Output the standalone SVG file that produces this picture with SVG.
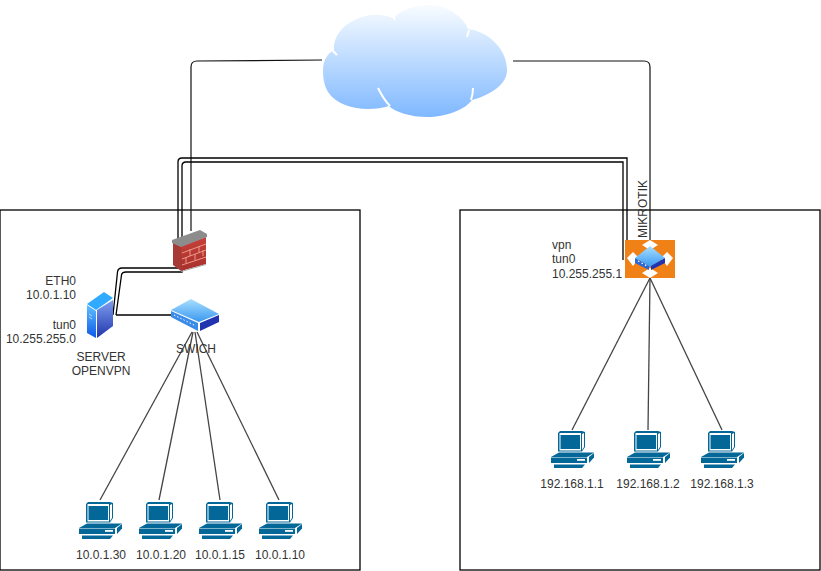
<svg xmlns="http://www.w3.org/2000/svg" width="821" height="571" viewBox="0 0 821 571">
<style>
text{font-family:"Liberation Sans",Arial,sans-serif;font-size:12px;fill:#333}
.ln{fill:none;stroke:#000;stroke-width:1.3}
.lt{fill:none;stroke:#111;stroke-width:1.2}
.lg{fill:none;stroke:#444;stroke-width:1.3}
.box{fill:#fff;stroke:#000;stroke-width:1.3}
.c1{fill:#036897}.c2{fill:#fff}
.gap{fill:none;stroke:#fff;stroke-width:2}
</style>
<defs>
<linearGradient id="cl" x1="0" y1="0" x2="0" y2="1"><stop offset="0" stop-color="#f8fcff"/><stop offset="1" stop-color="#7fb8ff"/></linearGradient>
<linearGradient id="sv" x1="0" y1="0" x2="0" y2="1"><stop offset="0" stop-color="#7f9ff0"/><stop offset="1" stop-color="#1f35ab"/></linearGradient>
<linearGradient id="sv2" x1="0" y1="0" x2="0" y2="1"><stop offset="0" stop-color="#60c0ff"/><stop offset="1" stop-color="#0c58e8"/></linearGradient>
<linearGradient id="top" x1="0" y1="0" x2="0" y2="1"><stop offset="0" stop-color="#a8e0ff"/><stop offset="1" stop-color="#3a98f0"/></linearGradient>
<linearGradient id="fw" x1="0" y1="0" x2="0" y2="1"><stop offset="0" stop-color="#c8403a"/><stop offset="1" stop-color="#a8302c"/></linearGradient>
<g id="pc">
<path class="c1" d="M9,-1 H31 L34,0 V15 L31,19.500 H7 V1 Z"/>
<rect class="c2" x="8.500" y="1" width="21.500" height="17.500"/>
<rect class="c1" x="9.500" y="3" width="19.500" height="14"/>
<path class="c2" d="M31,2 L33,1 V15 L31,18 Z"/>
<path class="c1" d="M8,20.500 H43 L36,25 H0 Z"/>
<rect class="c1" x="0" y="25.500" width="36" height="5.500"/>
<rect class="c2" x="26" y="27" width="8" height="1.800"/>
<path class="c1" d="M38,25 L43,21 V25.500 L38,31 Z"/>
<path class="c1" d="M3,32.500 H34 L31,36 H3 Z"/>
</g>
</defs>
<rect id="left-box" class="box" x="0" y="210" width="360" height="360"/>
<rect id="right-box" class="box" x="460" y="210" width="360" height="360"/>
<g id="connectors">
<path class="lt" d="M322,60 L197,61 Q191,61 191,67 V231"/>
<path class="lt" d="M513,61 L644,61 Q650,61 650,67 V240"/>
<path class="ln" d="M113,315 L117.500,272 Q118,268 122,268 H178 V162 Q178,158 182,158 H627 V256"/>
<path class="ln" d="M116,315 L121.500,275 Q122,272 126,272 H182 V166 Q182,162 186,162 H623 V260"/>
<path class="ln" d="M116,315 H171"/>
<path class="lg" d="M192,332 L100,500"/>
<path class="lg" d="M193,332 L159,500"/>
<path class="lg" d="M195,332 L220,500"/>
<path class="lg" d="M197,332 L279,500"/>
<path class="lg" d="M650,278 L572,430"/>
<path class="lg" d="M650,278 L648,430"/>
<path class="lg" d="M650,278 L722,430"/>
</g>
<g id="cloud">
<path fill="url(#cl)" d="M323,70 C323,60 328,53 334,50 C333,35 345,20 370,15 C380,14 390,16 394,19 C400,8 420,5 430,5 C450,5 465,20 468,29 C490,32 507,50 507,70 C507,85 490,95 472,100 C465,110 445,117 428,117 C410,117 395,112 389,106 C370,112 340,110 328,92 C324,85 323,78 323,70 Z"/>
<path class="gap" d="M332,50 L337,55 M392,15 L395,20 M469,30 L467,37 M378,88 C382,96 386,102 390,106 M473,88 C473,93 472,97 471,100"/>
</g>
<g id="firewall">
<path fill="#a83a36" d="M173,242 L181,246 V271 L173,265 Z"/>
<path fill="url(#fw)" d="M181,246 L206,237 V264 L181,271 Z"/>
<path fill="#8c8c8c" d="M172,240 L200,230 L207,234 V237 L181,247 L172,243 Z"/>
<path stroke="#e89a88" stroke-width="1" fill="none" d="M182,253 L206,244 M182,259 L206,250 M182,265 L206,257 M190,249 V256 M199,246 V253 M186,257 V263 M195,254 V260 M203,250 V256"/>
<path stroke="#aaa" stroke-width="1" fill="none" d="M181,271.500 L206,264.500"/>
</g>
<g id="server">
<path fill="url(#sv)" d="M97,310 L113,300 V326 L97,338 Z"/>
<path fill="url(#sv2)" d="M87,305 L96,311 V338 L87,333 Z"/>
<path fill="#30aaff" d="M87,304 L104,292 L113,298 L96,310 Z"/>
<path stroke="#cfe6ff" stroke-width=".8" fill="none" d="M89,314 L92,316 M89,317 L92,319"/>
<text x="101" y="361" text-anchor="middle">SERVER</text>
<text x="101" y="375" text-anchor="middle">OPENVPN</text>
</g>
<text x="76" y="285" text-anchor="end">ETH0</text>
<text x="76" y="299" text-anchor="end">10.0.1.10</text>
<text x="76" y="329" text-anchor="end">tun0</text>
<text x="76" y="343" text-anchor="end">10.255.255.0</text>
<g id="switch">
<path fill="url(#top)" d="M171,310 L191,299 L219,314 L199,322 Z"/>
<path fill="#3a8ae8" d="M171,311 L198,323 V331 L171,317 Z"/>
<path fill="#2233b0" d="M200,323 L219,315 V322 L200,331 Z"/>
<path stroke="#fff" stroke-width="1" stroke-dasharray="1.500 2" fill="none" d="M174,315 L196,326"/>
<text x="196" y="353" text-anchor="middle">SWICH</text>
</g>
<g id="mikrotik">
<rect fill="#f08117" x="625" y="240" width="50" height="38"/>
<path fill="#fff" d="M650,240 L658,245 L650,250 L642,245 Z M650,268 L658,273 L650,278 L642,273 Z M627,258 L633,252 L639,258 L633,266 Z M673,258 L667,252 L661,258 L667,266 Z"/>
<path fill="url(#top)" d="M635,258 L650,246 L665,258 L650,267 Z"/>
<path fill="#2a66d8" d="M635,258 L649,266 V270 L635,263 Z"/>
<path fill="#2233b0" d="M651,266 L665,258 V263 L651,270 Z"/>
<path stroke="#fff" stroke-width="1.200" stroke-dasharray="1.500 2.500" fill="none" d="M638,261 L647,266"/>
<text transform="translate(646.500,238) rotate(-90)">MIKROTIK</text>
</g>
<text x="552" y="249">vpn</text>
<text x="552" y="263">tun0</text>
<text x="552" y="278">10.255.255.1</text>
<g id="pc1"><use href="#pc" x="79" y="503"/><text x="101" y="559" text-anchor="middle">10.0.1.30</text></g>
<g id="pc2"><use href="#pc" x="139" y="503"/><text x="161" y="559" text-anchor="middle">10.0.1.20</text></g>
<g id="pc3"><use href="#pc" x="199" y="503"/><text x="220" y="559" text-anchor="middle">10.0.1.15</text></g>
<g id="pc4"><use href="#pc" x="259" y="503"/><text x="280" y="559" text-anchor="middle">10.0.1.10</text></g>
<g id="pc5"><use href="#pc" x="551" y="432"/><text x="572" y="488" text-anchor="middle">192.168.1.1</text></g>
<g id="pc6"><use href="#pc" x="627" y="432"/><text x="648" y="488" text-anchor="middle">192.168.1.2</text></g>
<g id="pc7"><use href="#pc" x="701" y="432"/><text x="722" y="488" text-anchor="middle">192.168.1.3</text></g>
</svg>
